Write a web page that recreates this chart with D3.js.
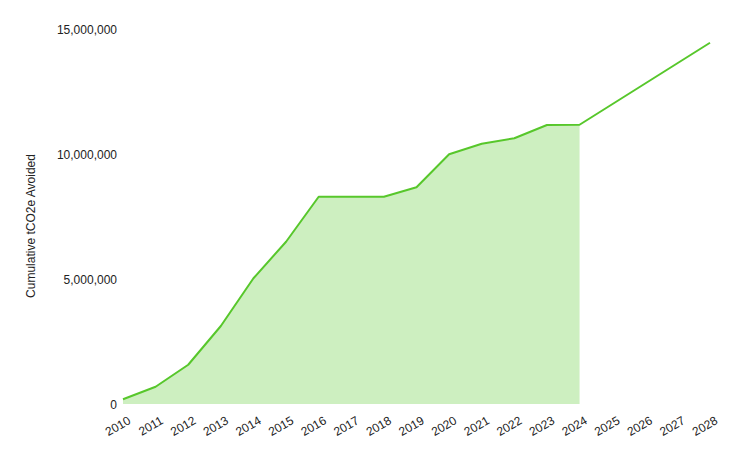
<!DOCTYPE html>
<html><head><meta charset="utf-8">
<script src="https://cdn.jsdelivr.net/npm/d3@7"></script>
<style>body{margin:0;background:#fff}svg text{font-family:"Liberation Sans",Arial,sans-serif;}</style>
</head><body><svg id="c" width="734" height="454"></svg>
<script>
const years = [2010,2011,2012,2013,2014,2015,2016,2017,2018,2019,2020,2021,2022,2023,2024,2025,2026,2027,2028];
const cumulative = [190000,690000,1570000,3120000,5030000,6490000,8290000,8290000,8290000,8670000,9990000,10410000,10630000,11160000,11170000,11990000,12810000,13630000,14450000];
const actualLastYear = 2024;
const yTicks = [0,5000000,10000000,15000000];
const yTitle = "Cumulative tCO2e Avoided";

const svg = d3.select("#c");
const x = d3.scalePoint().domain(years).range([123, 710]);
const y = d3.scaleLinear().domain([0,15000000]).range([404, 29]);
const data = years.map((yr,i)=>({yr, v:cumulative[i]}));
const actual = data.filter(d=>d.yr<=actualLastYear);

svg.append("path").datum(actual)
  .attr("d", d3.area().x(d=>x(d.yr)).y0(y(0)).y1(d=>y(d.v)))
  .attr("fill","#cdefc0");
svg.append("path").datum(data)
  .attr("d", d3.line().x(d=>x(d.yr)).y(d=>y(d.v)))
  .attr("fill","none").attr("stroke","#57c72b").attr("stroke-width",2).attr("stroke-linejoin","round");

const fmt = d3.format(",");
const ya = svg.append("g").attr("transform","translate(117,1)")
  .call(d3.axisLeft(y).tickValues(yTicks).tickFormat(fmt).tickSize(0).tickPadding(0));
ya.select(".domain").remove();
ya.selectAll("text").attr("font-size",12).attr("fill","#222").attr("font-family","Liberation Sans, Arial, sans-serif");

const xa = svg.append("g").attr("transform","translate(0,404)")
  .call(d3.axisBottom(x).tickSize(0).tickPadding(0).tickFormat(d3.format("d")));
xa.select(".domain").remove();
xa.selectAll("text").attr("font-size",12).attr("fill","#222").attr("font-family","Liberation Sans, Arial, sans-serif")
  .attr("text-anchor","end").attr("dy",0)
  .attr("transform","translate(8,19) rotate(-30)");

svg.append("text").attr("transform","translate(35,226) rotate(-90)")
  .attr("text-anchor","middle").attr("font-size",12).attr("fill","#222").text(yTitle);
</script></body></html>
